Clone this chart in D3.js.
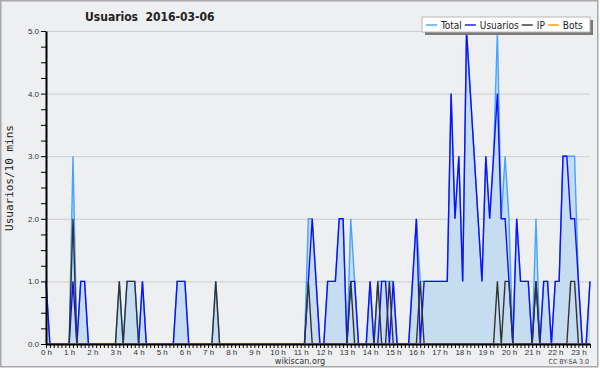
<!DOCTYPE html>
<html>
<head>
<meta charset="utf-8">
<script src="https://cdnjs.cloudflare.com/ajax/libs/d3/7.8.5/d3.min.js"></script>
<style>
    body { margin: 0; background: #fff; }
    svg { display: block; font-family: "DejaVu Sans Condensed", "DejaVu Sans", sans-serif; font-stretch: condensed; }
</style>
</head>
<body>
<svg width="600" height="370"></svg>
<script>
// 10 minute steps, 00:00 .. 23:30
var hourLabels = ["0 h", "1 h", "2 h", "3 h", "4 h", "5 h", "6 h", "7 h", "8 h", "9 h", "10 h", "11 h",
    "12 h", "13 h", "14 h", "15 h", "16 h", "17 h", "18 h", "19 h", "20 h", "21 h", "22 h", "23 h"];

var total = [1, 0, 0, 0, 0, 0, 0, 3, 0, 1, 1, 0, 0, 0, 0, 0, 0, 0, 0, 1, 0, 1, 1, 1,
    0, 1, 0, 0, 0, 0, 0, 0, 0, 0, 1, 1, 1, 0, 0, 0, 0, 0, 0, 0, 1, 0, 0, 0,
    0, 0, 0, 0, 0, 0, 0, 0, 0, 0, 0, 0, 0, 0, 0, 0, 0, 0, 0, 0, 2, 2, 1, 0,
    0, 1, 1, 1, 2, 2, 0, 2, 1, 0, 0, 0, 1, 0, 1, 1, 1, 1, 1, 0, 0, 0, 0, 1,
    2, 1, 1, 1, 1, 1, 1, 1, 1, 4, 2, 3, 1, 5, 4, 3, 2, 1, 3, 2, 3, 5, 2, 3,
    2, 0, 2, 1, 1, 1, 0, 2, 0, 1, 1, 0, 1, 1, 3, 3, 3, 3, 1, 0, 0, 1];

var usuarios = [1, 0, 0, 0, 0, 0, 0, 1, 0, 1, 1, 0, 0, 0, 0, 0, 0, 0, 0, 0, 0, 0, 0, 0,
    0, 1, 0, 0, 0, 0, 0, 0, 0, 0, 1, 1, 1, 0, 0, 0, 0, 0, 0, 0, 0, 0, 0, 0,
    0, 0, 0, 0, 0, 0, 0, 0, 0, 0, 0, 0, 0, 0, 0, 0, 0, 0, 0, 0, 1, 2, 1, 0,
    0, 1, 1, 1, 2, 2, 0, 1, 1, 0, 0, 0, 1, 0, 0, 1, 1, 0, 1, 0, 0, 0, 0, 1,
    2, 0, 1, 1, 1, 1, 1, 1, 1, 4, 2, 3, 1, 5, 4, 3, 2, 1, 3, 2, 3, 4, 2, 2,
    1, 0, 2, 1, 1, 1, 0, 1, 0, 1, 1, 0, 1, 1, 3, 3, 2, 2, 1, 0, 0, 1];

var ip = [0, 0, 0, 0, 0, 0, 0, 2, 0, 0, 0, 0, 0, 0, 0, 0, 0, 0, 0, 1, 0, 1, 1, 1,
    0, 0, 0, 0, 0, 0, 0, 0, 0, 0, 0, 0, 0, 0, 0, 0, 0, 0, 0, 0, 1, 0, 0, 0,
    0, 0, 0, 0, 0, 0, 0, 0, 0, 0, 0, 0, 0, 0, 0, 0, 0, 0, 0, 0, 1, 0, 0, 0,
    0, 0, 0, 0, 0, 0, 0, 1, 0, 0, 0, 0, 0, 0, 1, 0, 0, 1, 0, 0, 0, 0, 0, 0,
    0, 1, 0, 0, 0, 0, 0, 0, 0, 0, 0, 0, 0, 0, 0, 0, 0, 0, 0, 0, 0, 1, 0, 1,
    1, 0, 0, 0, 0, 0, 0, 1, 0, 0, 0, 0, 0, 0, 0, 0, 1, 1, 0, 0, 0, 0];

var bots = [0, 0, 0, 0, 0, 0, 0, 0, 0, 0, 0, 0, 0, 0, 0, 0, 0, 0, 0, 0, 0, 0, 0, 0,
    0, 0, 0, 0, 0, 0, 0, 0, 0, 0, 0, 0, 0, 0, 0, 0, 0, 0, 0, 0, 0, 0, 0, 0,
    0, 0, 0, 0, 0, 0, 0, 0, 0, 0, 0, 0, 0, 0, 0, 0, 0, 0, 0, 0, 0, 0, 0, 0,
    0, 0, 0, 0, 0, 0, 0, 0, 0, 0, 0, 0, 0, 0, 0, 0, 0, 0, 0, 0, 0, 0, 0, 0,
    0, 0, 0, 0, 0, 0, 0, 0, 0, 0, 0, 0, 0, 0, 0, 0, 0, 0, 0, 0, 0, 0, 0, 0,
    0, 0, 0, 0, 0, 0, 0, 0, 0, 0, 0, 0, 0, 0, 0, 0, 0, 0, 0, 0, 0, 0];

var yMax = 5;
var legendNames = ["Total", "Usuarios", "IP", "Bots"];
var legendColors = ["#44a4ff", "#1010ff", "#333333", "#ff9900"];

var svg = d3.select("svg"),
    width = +svg.attr("width"),
    height = +svg.attr("height");

// background and frame
svg.append("rect")
    .attr("x", 0.75).attr("y", 0.75)
    .attr("width", 597).attr("height", 366)
    .attr("fill", "#eeeff1")
    .attr("stroke", "#a8a8a8")
    .attr("stroke-width", 1.5);

var x = d3.scaleLinear()
    .domain([0, usuarios.length - 1])
    .range([46, 590]);

var y = d3.scaleLinear()
    .domain([0, yMax])
    .range([344, 31]);

// grid lines
svg.append("g")
    .selectAll("line")
    .data(d3.range(1, yMax + 1))
    .enter()
    .append("line")
    .attr("x1", x.range()[0])
    .attr("x2", x.range()[1])
    .attr("y1", function (d) { return y(d) + 0.5; })
    .attr("y2", function (d) { return y(d) + 0.5; })
    .attr("stroke", "#cdcdcd")
    .attr("stroke-width", 1);

// total area + lines
var area = d3.area()
    .x(function (d, i) { return x(i); })
    .y0(y(0))
    .y1(function (d) { return y(d); });

svg.append("path")
    .datum(total)
    .attr("d", area)
    .attr("fill", "#c6dcf0");

var line = d3.line()
    .x(function (d, i) { return x(i); })
    .y(function (d) { return y(d); });

[total, usuarios, ip, bots].forEach(function (serie, k) {
    svg.append("path")
        .datum(serie)
        .attr("d", line)
        .attr("fill", "none")
        .attr("stroke", legendColors[k])
        .attr("stroke-width", 1.4)
        .attr("stroke-linejoin", "miter");
});

// y axis
var yAxis = svg.append("g")
    .attr("transform", "translate(46,0)")
    .call(d3.axisLeft(y)
        .tickValues(d3.range(0, yMax + 0.01, 0.25))
        .tickSize(5)
        .tickSizeOuter(0)
        .tickPadding(2)
        .tickFormat(function (d) { return d % 1 === 0 ? d3.format(".1f")(d) : ""; }));

// x axis
var xAxis = svg.append("g")
    .attr("transform", "translate(0,344)")
    .call(d3.axisBottom(x)
        .tickValues(d3.range(usuarios.length))
        .tickSize(4)
        .tickSizeOuter(0)
        .tickPadding(1)
        .tickFormat(function (d) { return d % 6 === 0 ? hourLabels[d / 6] : ""; }));

[yAxis, xAxis].forEach(function (ax) {
    ax.select(".domain").attr("stroke", "#000").attr("stroke-width", 2);
    ax.selectAll(".tick line").attr("stroke", "#000").attr("stroke-width", 1);
    ax.selectAll("text").style("font-size", "8px").attr("fill", "#333");
});

// title
svg.append("text")
    .attr("x", 85).attr("y", 21)
    .text("Usuarios  2016-03-06")
    .style("font-size", "12px")
    .style("font-weight", "bold")
    .style("white-space", "pre")
    .attr("fill", "#222");

// y axis title
svg.append("text")
    .attr("transform", "translate(13,178) rotate(-90)")
    .attr("text-anchor", "middle")
    .text("Usuarios/10 mins")
    .style("font-family", "'DejaVu Sans Mono', monospace")
    .style("font-size", "11px")
    .attr("fill", "#222");

// footer
svg.append("text")
    .attr("x", 300).attr("y", 364)
    .attr("text-anchor", "middle")
    .text("wikiscan.org")
    .style("font-size", "9px")
    .attr("fill", "#333");

svg.append("text")
    .attr("x", 589).attr("y", 364)
    .attr("text-anchor", "end")
    .text("CC BY-SA 3.0")
    .style("font-size", "7px")
    .attr("fill", "#444");

// legend
var legend = svg.append("g").attr("class", "legend");
legend.append("rect")
    .attr("x", 425).attr("y", 20)
    .attr("width", 168).attr("height", 15)
    .attr("fill", "#7a7a7a");
legend.append("rect")
    .attr("x", 422).attr("y", 17)
    .attr("width", 168).attr("height", 15)
    .attr("fill", "#fff")
    .attr("stroke", "#b8b8b8");

var cursor = 426;
legendNames.forEach(function (name, k) {
    legend.append("line")
        .attr("x1", cursor).attr("x2", cursor + 11)
        .attr("y1", 25).attr("y2", 25)
        .attr("stroke", legendColors[k])
        .attr("stroke-width", 1.4);
    var t = legend.append("text")
        .attr("x", cursor + 15).attr("y", 28.5)
        .text(name)
        .style("font-size", "10px")
        .attr("fill", "#222");
    cursor += 15 + t.node().getComputedTextLength() + 3;
});
</script>
</body>
</html>
